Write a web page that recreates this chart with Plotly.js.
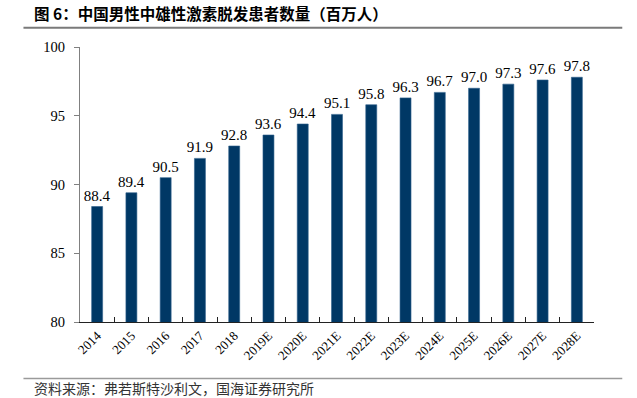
<!DOCTYPE html>
<html>
<head>
<meta charset="utf-8">
<script src="https://cdn.plot.ly/plotly-3.0.1.min.js"></script>
<style>html,body{margin:0;padding:0;background:#fff;}#chart{width:637px;height:398px;}</style>
</head>
<body>
<div id="chart"></div>
<script>
const years = ["2014","2015","2016","2017","2018","2019E","2020E","2021E","2022E","2023E","2024E","2025E","2026E","2027E","2028E"];
const patients = [88.4, 89.4, 90.5, 91.9, 92.8, 93.6, 94.4, 95.1, 95.8, 96.3, 96.7, 97.0, 97.3, 97.6, 97.8];
const labels = patients.map(v => v.toFixed(1));
const titleText = "图 6：中国男性中雄性激素脱发患者数量（百万人）";
const sourceText = "资料来源：弗若斯特沙利文，国海证券研究所";

const serif = "Liberation Serif, Times New Roman, serif";
const FW = 637, FH = 398;
const bars = {
  type: "bar",
  x: years,
  y: patients,
  text: labels,
  textposition: "outside",
  constraintext: "none",
  cliponaxis: false,
  textfont: {family: serif, size: 15, color: "#000"},
  marker: {color: "#003865", line: {color: "#2d5f8c", width: 0.6}},
  width: 0.32,
  hoverinfo: "none"
};

const layout = {
  width: FW, height: FH,
  margin: {l: 80, r: 43, t: 47, b: 76},
  paper_bgcolor: "#fff", plot_bgcolor: "#fff",
  showlegend: false,
  xaxis: {
    type: "category",
    showline: true, linecolor: "#222", linewidth: 1,
    ticks: "inside", tickson: "boundaries", ticklen: 5, tickcolor: "#222",
    tickangle: -45,
    tickfont: {family: serif, size: 13, color: "#000"},
    showgrid: false, zeroline: false
  },
  yaxis: {
    range: [80, 100], dtick: 5, tick0: 80,
    showline: true, linecolor: "#808080", linewidth: 1,
    ticks: "outside", ticklen: 5, tickcolor: "#808080",
    ticklabelstandoff: 6,
    tickfont: {family: serif, size: 14.5, color: "#000"},
    showgrid: false, zeroline: false
  },
  shapes: [
    {type: "line", xref: "paper", yref: "paper", x0: -0.11, x1: 1.055, y0: 1.07, y1: 1.07, line: {color: "#7a7a7a", width: 2}},
    {type: "line", xref: "paper", yref: "paper", x0: -0.11, x1: 1.055, y0: -0.205, y1: -0.205, line: {color: "#9a9a9a", width: 1.5}}
  ],
  annotations: [
    {text: "<b>" + titleText + "</b>", xref: "paper", yref: "paper", x: -47/514, y: (322-13)/275, xanchor: "left", yanchor: "middle", showarrow: false, borderpad: 0, font: {family: "Noto Sans CJK SC", size: 15.5, color: "#000"}},
    {text: sourceText, xref: "paper", yref: "paper", x: -47/514, y: (322-388)/275, xanchor: "left", yanchor: "middle", showarrow: false, borderpad: 0, font: {family: "Noto Sans CJK SC", size: 14, color: "#333"}}
  ]
};
Plotly.newPlot("chart", [bars], layout, {staticPlot: true, displayModeBar: false});
</script>
</body>
</html>
